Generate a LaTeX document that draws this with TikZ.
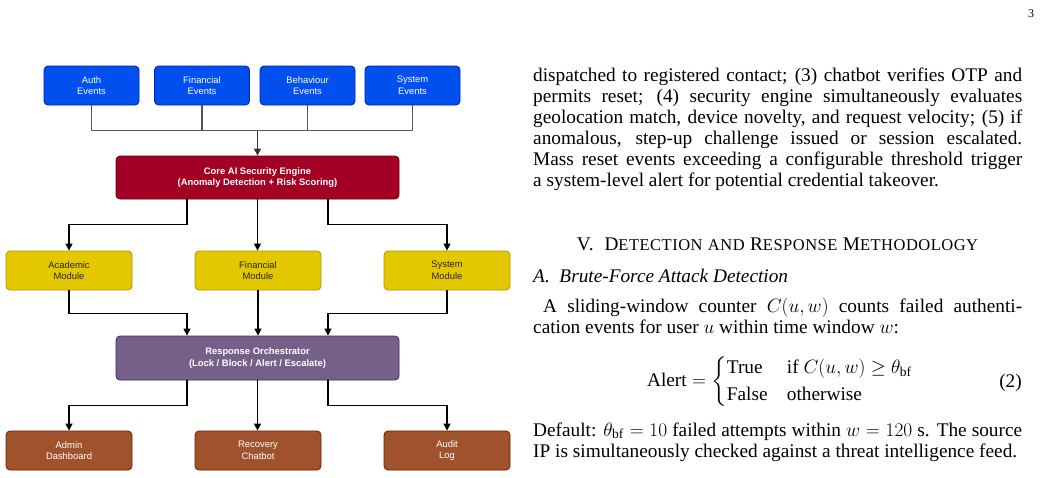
\documentclass[tikz,border=0pt]{standalone}
\usepackage{fix-cm}
\usepackage{amsmath}
\usepackage{fontspec}
\setmainfont{Liberation Serif}
\newfontfamily\diagfont{Liberation Sans}
\newfontfamily\headfont[LetterSpace=3]{Liberation Serif}
\usetikzlibrary{arrows.meta}
\definecolor{evfill}{HTML}{0050EF}\definecolor{evline}{HTML}{001DBC}
\definecolor{corefill}{HTML}{A20025}\definecolor{coreline}{HTML}{6F0000}
\definecolor{modfill}{HTML}{E3C800}\definecolor{modline}{HTML}{B09500}
\definecolor{orfill}{HTML}{76608A}\definecolor{orline}{HTML}{432D57}
\definecolor{outfill}{HTML}{A0522D}\definecolor{outline}{HTML}{6D1F00}
\definecolor{evconn}{HTML}{555555}
\newcommand\jline[1]{\hbox to 489pt{#1}}
\newcommand\sct[1]{{\fontsize{16.5}{16.5}\selectfont #1}}
\tikzset{
  box/.style={rounded corners=4pt, line width=0.8pt, align=center, inner sep=0pt,
    font=\diagfont\fontsize{9.4}{11.6}\selectfont},
  evbox/.style={box, fill=evfill, draw=evline, text=white, minimum width=95pt, minimum height=39pt},
  corebox/.style={box, fill=corefill, draw=coreline, text=white, minimum width=283pt, minimum height=43pt, font=\diagfont\bfseries\fontsize{9.4}{11.6}\selectfont},
  modbox/.style={box, fill=modfill, draw=modline, text=black!85, minimum width=126pt, minimum height=39pt},
  orbox/.style={box, fill=orfill, draw=orline, text=white, minimum width=283pt, minimum height=44pt, font=\diagfont\bfseries\fontsize{9.4}{11.6}\selectfont},
  outbox/.style={box, fill=outfill, draw=outline, text=white, minimum width=126pt, minimum height=39pt},
  conn/.style={line width=1.3pt, black, -{Triangle[length=7pt,width=7pt]}},
  evc/.style={line width=1.2pt, evconn},
  body/.style={anchor=base west, inner sep=0pt, font=\fontsize{19.3}{21}\selectfont},
}
\begin{document}
\begin{tikzpicture}[x=1pt,y=-1pt]
\useasboundingbox (0,0) rectangle (1043,477);
\fill[white] (0,0) rectangle (1043,477);
% events
\node[evbox] (auth) at (91.5,85.5) {Auth\\Events};
\node[evbox] (fin) at (202,85.5) {Financial\\Events};
\node[evbox] (beh) at (307.5,85.5) {Behaviour\\Events};
\node[evbox] (sys) at (412.5,85.5) {System\\Events};
% core
\node[corebox] (core) at (257.5,177.5) {Core AI Security Engine\\(Anomaly Detection + Risk Scoring)};
% modules
\node[modbox] (acad) at (69,270.5) {Academic\\Module};
\node[modbox] (finm) at (258,270.5) {Financial\\Module};
\node[modbox] (sysm) at (447,270.5) {System\\Module};
% orchestrator
\node[orbox] (orch) at (257.5,358) {Response Orchestrator\\(Lock / Block / Alert / Escalate)};
% outputs
\node[outbox] (admin) at (69,450.5) {Admin\\Dashboard};
\node[outbox] (chat) at (258,450.5) {Recovery\\Chatbot};
\node[outbox] (audit) at (447,450.5) {Audit\\Log};
% event connectors
\coordinate (join) at ([yshift=25pt]core.north);
\draw[evc] (auth.south) |- (join);
\draw[evc] (fin.south) |- (join);
\draw[evc] (beh.south) |- (join);
\draw[evc] (sys.south) |- (join);
\draw[conn, evconn!60!black] (join) -- (core.north);
% core to modules
\draw[conn] ([xshift=-70.5pt]core.south) -- ++(0,25) -| (acad.north);
\draw[conn] (core.south) -- (core.south |- finm.north);
\draw[conn] ([xshift=70.5pt]core.south) -- ++(0,25) -| (sysm.north);
% modules to orchestrator
\draw[conn] (acad.south) -- ++(0,23) -| ([xshift=-70.5pt]orch.north);
\draw[conn] (finm.south) -- (finm.south |- orch.north);
\draw[conn] (sysm.south) -- ++(0,23) -| ([xshift=70.5pt]orch.north);
% orchestrator to outputs
\draw[conn] ([xshift=-70.5pt]orch.south) -- ++(0,25) -| (admin.north);
\draw[conn] (orch.south) -- (orch.south |- chat.north);
\draw[conn] ([xshift=70.5pt]orch.south) -- ++(0,25) -| (audit.north);
% page number
\node[anchor=base, inner sep=0pt, font=\fontsize{12}{12}\selectfont] (pg) at (1031,17) {3};
% right column text
\node[body] (l1) at (533,81) {\jline{dispatched to registered contact; (3) chatbot verifies OTP and}};
\node[body] (l2) at (533,102) {\jline{permits reset; (4) security engine simultaneously evaluates}};
\node[body] (l3) at (533,123) {\jline{geolocation match, device novelty, and request velocity; (5) if}};
\node[body] (l4) at (533,144) {\jline{anomalous, step-up challenge issued or session escalated.}};
\node[body] (l5) at (533,165) {\jline{Mass reset events exceeding a configurable threshold trigger}};
\node[body] (l6) at (533,186) {a system-level alert for potential credential takeover.};
\node[body, anchor=base] (hd) at (777.5,250) {\headfont V.\ \ D\sct{ETECTION} \sct{AND} R\sct{ESPONSE} M\sct{ETHODOLOGY}};
\node[body] (sub) at (533,282) {\itshape A.\ \ Brute-Force Attack Detection};
\node[body] (p1) at (533,312) {\jline{\hspace{10pt}A sliding-window counter $C(u,w)$ counts failed authenti-}};
\node[body] (p2) at (533,333) {cation events for user $u$ within time window $w$:};
\node[body, anchor=center] (eq) at (780,382) {$\text{Alert} = \begin{cases}\text{True} & \text{if } C(u,w) \ge \theta_{\text{bf}}\\[2pt] \text{False} & \text{otherwise}\end{cases}$};
\node[body, anchor=base east] (eqn) at (1022,387) {(2)};
\node[body] (d1) at (533,436) {\jline{Default: $\theta_{\text{bf}} = 10$ failed attempts within $w = 120$ s. The source}};
\node[body] (d2) at (533,457) {IP is simultaneously checked against a threat intelligence feed.};
\end{tikzpicture}
\end{document}
